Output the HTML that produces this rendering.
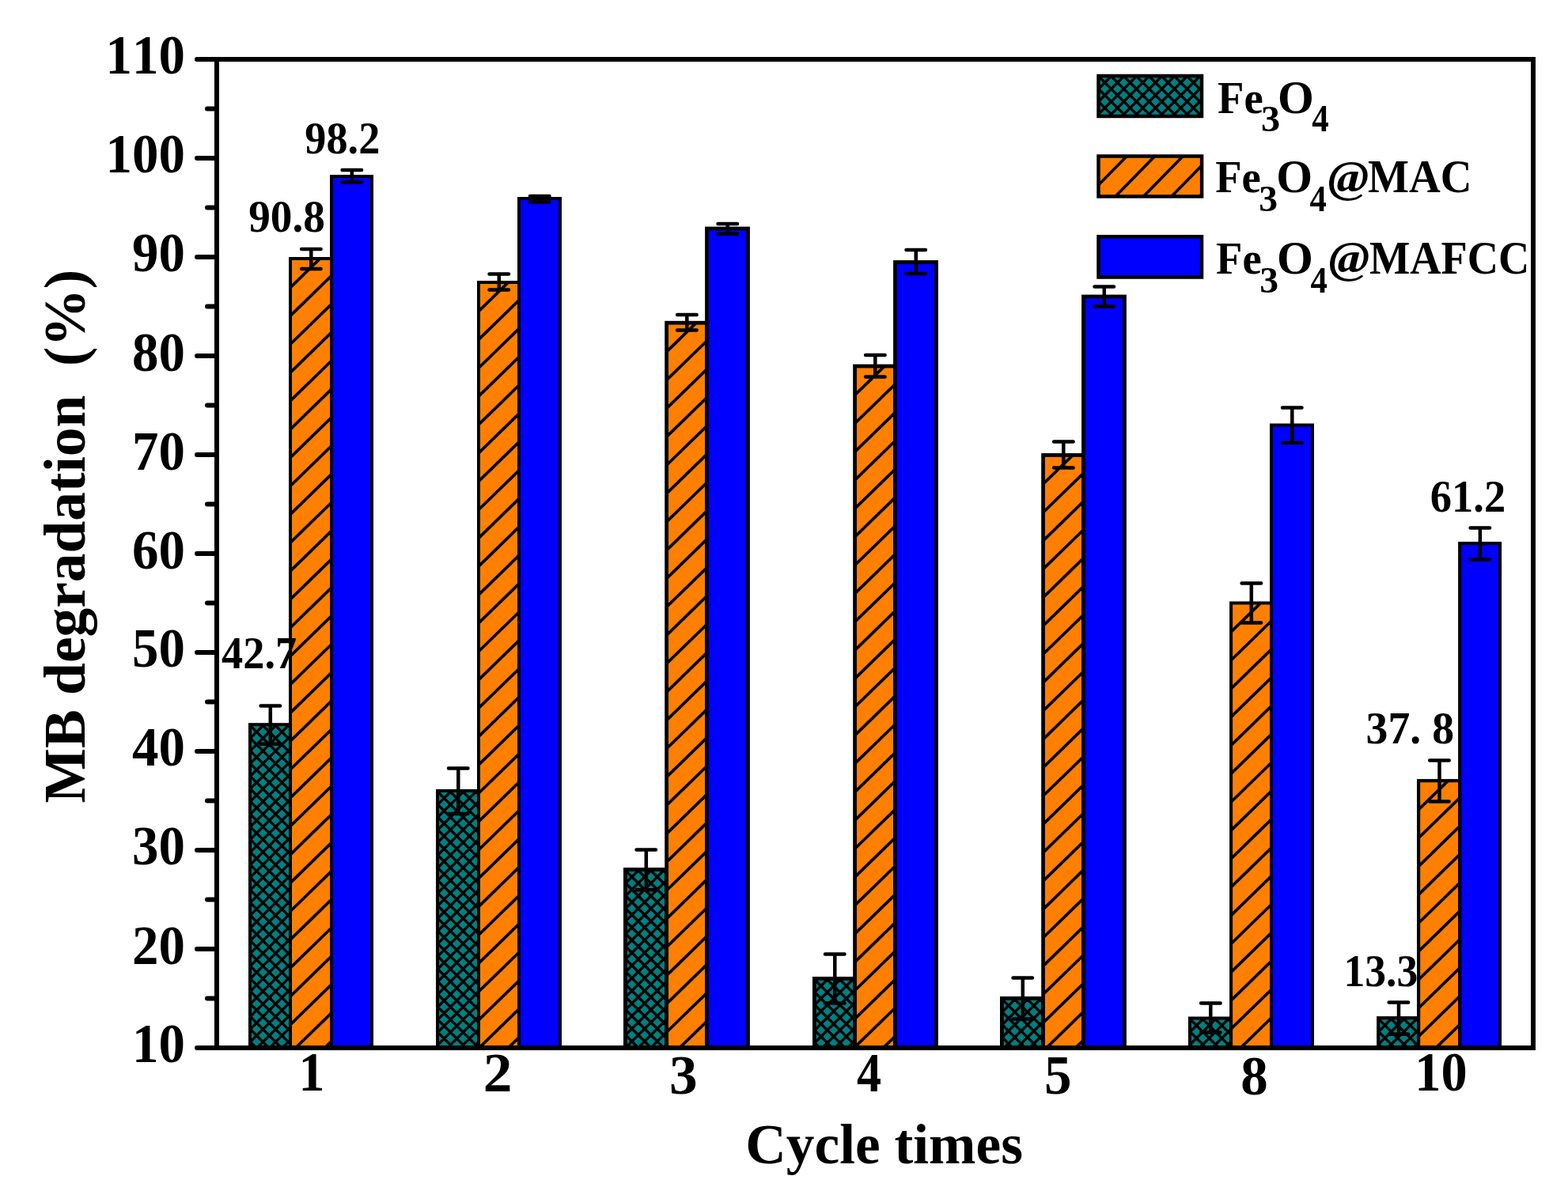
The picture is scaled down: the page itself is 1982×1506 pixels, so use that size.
<!DOCTYPE html>
<html lang="en"><head><meta charset="utf-8"><title>MB degradation vs cycle times</title>
<style>html,body{margin:0;padding:0;background:#fff;}body{width:1982px;height:1506px;overflow:hidden;}svg{display:block;}text{font-family:"Liberation Serif","Times New Roman",serif;font-weight:bold;fill:#000;font-kerning:none;white-space:pre;}</style></head><body>
<svg width="1982" height="1506" viewBox="0 0 1982 1506" role="img" aria-label="Bar chart of MB degradation (%) versus cycle times for Fe3O4, Fe3O4@MAC and Fe3O4@MAFCC">
<rect x="0" y="0" width="1982" height="1506" fill="#fff"/>
<svg x="316" y="916.2" width="51" height="408.8" overflow="hidden"><rect width="51" height="408.8" fill="#008080"/><path d="M-4 -10.3L55 -69.3M-4 5.7L55 -53.3M-4 21.7L55 -37.3M-4 37.7L55 -21.3M-4 53.7L55 -5.3M-4 69.7L55 10.7M-4 85.7L55 26.7M-4 101.7L55 42.7M-4 117.7L55 58.7M-4 133.7L55 74.7M-4 149.7L55 90.7M-4 165.7L55 106.7M-4 181.7L55 122.7M-4 197.7L55 138.7M-4 213.7L55 154.7M-4 229.7L55 170.7M-4 245.7L55 186.7M-4 261.7L55 202.7M-4 277.7L55 218.7M-4 293.7L55 234.7M-4 309.7L55 250.7M-4 325.7L55 266.7M-4 341.7L55 282.7M-4 357.7L55 298.7M-4 373.7L55 314.7M-4 389.7L55 330.7M-4 405.7L55 346.7M-4 421.7L55 362.7M-4 437.7L55 378.7M-4 453.7L55 394.7M-4 428.9L55 487.9M-4 412.9L55 471.9M-4 396.9L55 455.9M-4 380.9L55 439.9M-4 364.9L55 423.9M-4 348.9L55 407.9M-4 332.9L55 391.9M-4 316.9L55 375.9M-4 300.9L55 359.9M-4 284.9L55 343.9M-4 268.9L55 327.9M-4 252.9L55 311.9M-4 236.9L55 295.9M-4 220.9L55 279.9M-4 204.9L55 263.9M-4 188.9L55 247.9M-4 172.9L55 231.9M-4 156.9L55 215.9M-4 140.9L55 199.9M-4 124.9L55 183.9M-4 108.9L55 167.9M-4 92.9L55 151.9M-4 76.9L55 135.9M-4 60.9L55 119.9M-4 44.9L55 103.9M-4 28.9L55 87.9M-4 12.9L55 71.9M-4 -3.1L55 55.9M-4 -19.1L55 39.9M-4 -35.1L55 23.9M-4 -51.1L55 7.9" stroke="#000" stroke-width="3.4" fill="none"/></svg><rect x="316" y="916.2" width="51" height="408.8" fill="none" stroke="#000" stroke-width="4.0"/>
<svg x="367" y="327" width="52" height="998" overflow="hidden"><rect width="52" height="998" fill="#ff8000"/><path d="M-4 4.6L56 -53.9M-4 40.45L56 -18.05M-4 76.3L56 17.8M-4 112.15L56 53.65M-4 148L56 89.5M-4 183.85L56 125.35M-4 219.7L56 161.2M-4 255.55L56 197.05M-4 291.4L56 232.9M-4 327.25L56 268.75M-4 363.1L56 304.6M-4 398.95L56 340.45M-4 434.8L56 376.3M-4 470.65L56 412.15M-4 506.5L56 448M-4 542.35L56 483.85M-4 578.2L56 519.7M-4 614.05L56 555.55M-4 649.9L56 591.4M-4 685.75L56 627.25M-4 721.6L56 663.1M-4 757.45L56 698.95M-4 793.3L56 734.8M-4 829.15L56 770.65M-4 865L56 806.5M-4 900.85L56 842.35M-4 936.7L56 878.2M-4 972.55L56 914.05M-4 1008.4L56 949.9M-4 1044.25L56 985.75" stroke="#000" stroke-width="3.72" fill="none"/></svg><rect x="367" y="327" width="52" height="998" fill="none" stroke="#000" stroke-width="4.0"/>
<svg x="419" y="223" width="51" height="1102" overflow="hidden"><rect width="51" height="1102" fill="#0000ff"/></svg><rect x="419" y="223" width="51" height="1102" fill="none" stroke="#000" stroke-width="4.0"/>
<svg x="553" y="1000" width="52" height="325" overflow="hidden"><rect width="52" height="325" fill="#008080"/><path d="M-4 -10.3L56 -70.3M-4 5.7L56 -54.3M-4 21.7L56 -38.3M-4 37.7L56 -22.3M-4 53.7L56 -6.3M-4 69.7L56 9.7M-4 85.7L56 25.7M-4 101.7L56 41.7M-4 117.7L56 57.7M-4 133.7L56 73.7M-4 149.7L56 89.7M-4 165.7L56 105.7M-4 181.7L56 121.7M-4 197.7L56 137.7M-4 213.7L56 153.7M-4 229.7L56 169.7M-4 245.7L56 185.7M-4 261.7L56 201.7M-4 277.7L56 217.7M-4 293.7L56 233.7M-4 309.7L56 249.7M-4 325.7L56 265.7M-4 341.7L56 281.7M-4 357.7L56 297.7M-4 373.7L56 313.7M-4 348.9L56 408.9M-4 332.9L56 392.9M-4 316.9L56 376.9M-4 300.9L56 360.9M-4 284.9L56 344.9M-4 268.9L56 328.9M-4 252.9L56 312.9M-4 236.9L56 296.9M-4 220.9L56 280.9M-4 204.9L56 264.9M-4 188.9L56 248.9M-4 172.9L56 232.9M-4 156.9L56 216.9M-4 140.9L56 200.9M-4 124.9L56 184.9M-4 108.9L56 168.9M-4 92.9L56 152.9M-4 76.9L56 136.9M-4 60.9L56 120.9M-4 44.9L56 104.9M-4 28.9L56 88.9M-4 12.9L56 72.9M-4 -3.1L56 56.9M-4 -19.1L56 40.9M-4 -35.1L56 24.9M-4 -51.1L56 8.9" stroke="#000" stroke-width="3.4" fill="none"/></svg><rect x="553" y="1000" width="52" height="325" fill="none" stroke="#000" stroke-width="4.0"/>
<svg x="605" y="357" width="51" height="968" overflow="hidden"><rect width="51" height="968" fill="#ff8000"/><path d="M-4 4.6L55 -52.92M-4 40.45L55 -17.07M-4 76.3L55 18.78M-4 112.15L55 54.63M-4 148L55 90.47M-4 183.85L55 126.32M-4 219.7L55 162.18M-4 255.55L55 198.03M-4 291.4L55 233.88M-4 327.25L55 269.73M-4 363.1L55 305.57M-4 398.95L55 341.43M-4 434.8L55 377.28M-4 470.65L55 413.12M-4 506.5L55 448.98M-4 542.35L55 484.83M-4 578.2L55 520.68M-4 614.05L55 556.53M-4 649.9L55 592.38M-4 685.75L55 628.23M-4 721.6L55 664.08M-4 757.45L55 699.93M-4 793.3L55 735.78M-4 829.15L55 771.63M-4 865L55 807.48M-4 900.85L55 843.33M-4 936.7L55 879.18M-4 972.55L55 915.03M-4 1008.4L55 950.88" stroke="#000" stroke-width="3.72" fill="none"/></svg><rect x="605" y="357" width="51" height="968" fill="none" stroke="#000" stroke-width="4.0"/>
<svg x="656" y="251" width="52" height="1074" overflow="hidden"><rect width="52" height="1074" fill="#0000ff"/></svg><rect x="656" y="251" width="52" height="1074" fill="none" stroke="#000" stroke-width="4.0"/>
<svg x="790.4" y="1099.5" width="52.2" height="225.5" overflow="hidden"><rect width="52.2" height="225.5" fill="#008080"/><path d="M-4 -10.3L56.2 -70.5M-4 5.7L56.2 -54.5M-4 21.7L56.2 -38.5M-4 37.7L56.2 -22.5M-4 53.7L56.2 -6.5M-4 69.7L56.2 9.5M-4 85.7L56.2 25.5M-4 101.7L56.2 41.5M-4 117.7L56.2 57.5M-4 133.7L56.2 73.5M-4 149.7L56.2 89.5M-4 165.7L56.2 105.5M-4 181.7L56.2 121.5M-4 197.7L56.2 137.5M-4 213.7L56.2 153.5M-4 229.7L56.2 169.5M-4 245.7L56.2 185.5M-4 261.7L56.2 201.5M-4 277.7L56.2 217.5M-4 252.9L56.2 313.1M-4 236.9L56.2 297.1M-4 220.9L56.2 281.1M-4 204.9L56.2 265.1M-4 188.9L56.2 249.1M-4 172.9L56.2 233.1M-4 156.9L56.2 217.1M-4 140.9L56.2 201.1M-4 124.9L56.2 185.1M-4 108.9L56.2 169.1M-4 92.9L56.2 153.1M-4 76.9L56.2 137.1M-4 60.9L56.2 121.1M-4 44.9L56.2 105.1M-4 28.9L56.2 89.1M-4 12.9L56.2 73.1M-4 -3.1L56.2 57.1M-4 -19.1L56.2 41.1M-4 -35.1L56.2 25.1M-4 -51.1L56.2 9.1" stroke="#000" stroke-width="3.4" fill="none"/></svg><rect x="790.4" y="1099.5" width="52.2" height="225.5" fill="none" stroke="#000" stroke-width="4.8"/>
<svg x="842.6" y="408.2" width="50.9" height="916.8" overflow="hidden"><rect width="50.9" height="916.8" fill="#ff8000"/><path d="M-4 4.6L54.9 -52.83M-4 40.45L54.9 -16.98M-4 76.3L54.9 18.87M-4 112.15L54.9 54.72M-4 148L54.9 90.57M-4 183.85L54.9 126.42M-4 219.7L54.9 162.27M-4 255.55L54.9 198.12M-4 291.4L54.9 233.97M-4 327.25L54.9 269.82M-4 363.1L54.9 305.67M-4 398.95L54.9 341.52M-4 434.8L54.9 377.37M-4 470.65L54.9 413.22M-4 506.5L54.9 449.07M-4 542.35L54.9 484.92M-4 578.2L54.9 520.77M-4 614.05L54.9 556.62M-4 649.9L54.9 592.47M-4 685.75L54.9 628.32M-4 721.6L54.9 664.17M-4 757.45L54.9 700.02M-4 793.3L54.9 735.87M-4 829.15L54.9 771.72M-4 865L54.9 807.57M-4 900.85L54.9 843.42M-4 936.7L54.9 879.27M-4 972.55L54.9 915.12" stroke="#000" stroke-width="3.72" fill="none"/></svg><rect x="842.6" y="408.2" width="50.9" height="916.8" fill="none" stroke="#000" stroke-width="4.8"/>
<svg x="893.5" y="289" width="52" height="1036" overflow="hidden"><rect width="52" height="1036" fill="#0000ff"/></svg><rect x="893.5" y="289" width="52" height="1036" fill="none" stroke="#000" stroke-width="4.8"/>
<svg x="1029.4" y="1237.4" width="51.2" height="87.6" overflow="hidden"><rect width="51.2" height="87.6" fill="#008080"/><path d="M-4 -10.3L55.2 -69.5M-4 5.7L55.2 -53.5M-4 21.7L55.2 -37.5M-4 37.7L55.2 -21.5M-4 53.7L55.2 -5.5M-4 69.7L55.2 10.5M-4 85.7L55.2 26.5M-4 101.7L55.2 42.5M-4 117.7L55.2 58.5M-4 133.7L55.2 74.5M-4 108.9L55.2 168.1M-4 92.9L55.2 152.1M-4 76.9L55.2 136.1M-4 60.9L55.2 120.1M-4 44.9L55.2 104.1M-4 28.9L55.2 88.1M-4 12.9L55.2 72.1M-4 -3.1L55.2 56.1M-4 -19.1L55.2 40.1M-4 -35.1L55.2 24.1M-4 -51.1L55.2 8.1" stroke="#000" stroke-width="3.4" fill="none"/></svg><rect x="1029.4" y="1237.4" width="51.2" height="87.6" fill="none" stroke="#000" stroke-width="4.8"/>
<svg x="1080.6" y="463" width="50.9" height="862" overflow="hidden"><rect width="50.9" height="862" fill="#ff8000"/><path d="M-4 4.6L54.9 -52.83M-4 40.45L54.9 -16.98M-4 76.3L54.9 18.87M-4 112.15L54.9 54.72M-4 148L54.9 90.57M-4 183.85L54.9 126.42M-4 219.7L54.9 162.27M-4 255.55L54.9 198.12M-4 291.4L54.9 233.97M-4 327.25L54.9 269.82M-4 363.1L54.9 305.67M-4 398.95L54.9 341.52M-4 434.8L54.9 377.37M-4 470.65L54.9 413.22M-4 506.5L54.9 449.07M-4 542.35L54.9 484.92M-4 578.2L54.9 520.77M-4 614.05L54.9 556.62M-4 649.9L54.9 592.47M-4 685.75L54.9 628.32M-4 721.6L54.9 664.17M-4 757.45L54.9 700.02M-4 793.3L54.9 735.87M-4 829.15L54.9 771.72M-4 865L54.9 807.57M-4 900.85L54.9 843.42" stroke="#000" stroke-width="3.72" fill="none"/></svg><rect x="1080.6" y="463" width="50.9" height="862" fill="none" stroke="#000" stroke-width="4.8"/>
<svg x="1131.5" y="331.5" width="52" height="993.5" overflow="hidden"><rect width="52" height="993.5" fill="#0000ff"/></svg><rect x="1131.5" y="331.5" width="52" height="993.5" fill="none" stroke="#000" stroke-width="4.8"/>
<svg x="1266.4" y="1262.4" width="52.2" height="62.6" overflow="hidden"><rect width="52.2" height="62.6" fill="#008080"/><path d="M-4 -10.3L56.2 -70.5M-4 5.7L56.2 -54.5M-4 21.7L56.2 -38.5M-4 37.7L56.2 -22.5M-4 53.7L56.2 -6.5M-4 69.7L56.2 9.5M-4 85.7L56.2 25.5M-4 101.7L56.2 41.5M-4 117.7L56.2 57.5M-4 76.9L56.2 137.1M-4 60.9L56.2 121.1M-4 44.9L56.2 105.1M-4 28.9L56.2 89.1M-4 12.9L56.2 73.1M-4 -3.1L56.2 57.1M-4 -19.1L56.2 41.1M-4 -35.1L56.2 25.1M-4 -51.1L56.2 9.1" stroke="#000" stroke-width="3.4" fill="none"/></svg><rect x="1266.4" y="1262.4" width="52.2" height="62.6" fill="none" stroke="#000" stroke-width="4.8"/>
<svg x="1318.6" y="575.5" width="50.9" height="749.5" overflow="hidden"><rect width="50.9" height="749.5" fill="#ff8000"/><path d="M-4 4.6L54.9 -52.83M-4 40.45L54.9 -16.98M-4 76.3L54.9 18.87M-4 112.15L54.9 54.72M-4 148L54.9 90.57M-4 183.85L54.9 126.42M-4 219.7L54.9 162.27M-4 255.55L54.9 198.12M-4 291.4L54.9 233.97M-4 327.25L54.9 269.82M-4 363.1L54.9 305.67M-4 398.95L54.9 341.52M-4 434.8L54.9 377.37M-4 470.65L54.9 413.22M-4 506.5L54.9 449.07M-4 542.35L54.9 484.92M-4 578.2L54.9 520.77M-4 614.05L54.9 556.62M-4 649.9L54.9 592.47M-4 685.75L54.9 628.32M-4 721.6L54.9 664.17M-4 757.45L54.9 700.02M-4 793.3L54.9 735.87" stroke="#000" stroke-width="3.72" fill="none"/></svg><rect x="1318.6" y="575.5" width="50.9" height="749.5" fill="none" stroke="#000" stroke-width="4.8"/>
<svg x="1369.5" y="375" width="52" height="950" overflow="hidden"><rect width="52" height="950" fill="#0000ff"/></svg><rect x="1369.5" y="375" width="52" height="950" fill="none" stroke="#000" stroke-width="4.8"/>
<svg x="1504" y="1287.5" width="52.1" height="37.5" overflow="hidden"><rect width="52.1" height="37.5" fill="#008080"/><path d="M-4 -10.3L56.1 -70.4M-4 5.7L56.1 -54.4M-4 21.7L56.1 -38.4M-4 37.7L56.1 -22.4M-4 53.7L56.1 -6.4M-4 69.7L56.1 9.6M-4 85.7L56.1 25.6M-4 60.9L56.1 121M-4 44.9L56.1 105M-4 28.9L56.1 89M-4 12.9L56.1 73M-4 -3.1L56.1 57M-4 -19.1L56.1 41M-4 -35.1L56.1 25M-4 -51.1L56.1 9" stroke="#000" stroke-width="3.4" fill="none"/></svg><rect x="1504" y="1287.5" width="52.1" height="37.5" fill="none" stroke="#000" stroke-width="4.0"/>
<svg x="1556.1" y="762.5" width="50.9" height="562.5" overflow="hidden"><rect width="50.9" height="562.5" fill="#ff8000"/><path d="M-4 4.6L54.9 -52.83M-4 40.45L54.9 -16.98M-4 76.3L54.9 18.87M-4 112.15L54.9 54.72M-4 148L54.9 90.57M-4 183.85L54.9 126.42M-4 219.7L54.9 162.27M-4 255.55L54.9 198.12M-4 291.4L54.9 233.97M-4 327.25L54.9 269.82M-4 363.1L54.9 305.67M-4 398.95L54.9 341.52M-4 434.8L54.9 377.37M-4 470.65L54.9 413.22M-4 506.5L54.9 449.07M-4 542.35L54.9 484.92M-4 578.2L54.9 520.77M-4 614.05L54.9 556.62" stroke="#000" stroke-width="3.72" fill="none"/></svg><rect x="1556.1" y="762.5" width="50.9" height="562.5" fill="none" stroke="#000" stroke-width="4.0"/>
<svg x="1607" y="537.5" width="52" height="787.5" overflow="hidden"><rect width="52" height="787.5" fill="#0000ff"/></svg><rect x="1607" y="537.5" width="52" height="787.5" fill="none" stroke="#000" stroke-width="4.0"/>
<svg x="1742.2" y="1287.2" width="50.9" height="37.8" overflow="hidden"><rect width="50.9" height="37.8" fill="#008080"/><path d="M-4 -10.3L54.9 -69.2M-4 5.7L54.9 -53.2M-4 21.7L54.9 -37.2M-4 37.7L54.9 -21.2M-4 53.7L54.9 -5.2M-4 69.7L54.9 10.8M-4 85.7L54.9 26.8M-4 60.9L54.9 119.8M-4 44.9L54.9 103.8M-4 28.9L54.9 87.8M-4 12.9L54.9 71.8M-4 -3.1L54.9 55.8M-4 -19.1L54.9 39.8M-4 -35.1L54.9 23.8M-4 -51.1L54.9 7.8" stroke="#000" stroke-width="3.4" fill="none"/></svg><rect x="1742.2" y="1287.2" width="50.9" height="37.8" fill="none" stroke="#000" stroke-width="4.2"/>
<svg x="1793.1" y="987.2" width="52.1" height="337.8" overflow="hidden"><rect width="52.1" height="337.8" fill="#ff8000"/><path d="M-4 4.6L56.1 -54M-4 40.45L56.1 -18.15M-4 76.3L56.1 17.7M-4 112.15L56.1 53.55M-4 148L56.1 89.4M-4 183.85L56.1 125.25M-4 219.7L56.1 161.1M-4 255.55L56.1 196.95M-4 291.4L56.1 232.8M-4 327.25L56.1 268.65M-4 363.1L56.1 304.5M-4 398.95L56.1 340.35" stroke="#000" stroke-width="3.72" fill="none"/></svg><rect x="1793.1" y="987.2" width="52.1" height="337.8" fill="none" stroke="#000" stroke-width="4.2"/>
<svg x="1845.2" y="687.1" width="50.8" height="637.9" overflow="hidden"><rect width="50.8" height="637.9" fill="#0000ff"/></svg><rect x="1845.2" y="687.1" width="50.8" height="637.9" fill="none" stroke="#000" stroke-width="4.2"/>
<path d="M329.6 892.4H354.1M329.6 940.7H354.1M341.8 892.4V940.7" stroke="#000" stroke-width="4.5" stroke-linecap="round" fill="none"/>
<path d="M381.1 315.1H405.6M381.1 340.0H405.6M393.3 315.1V340.0" stroke="#000" stroke-width="4.5" stroke-linecap="round" fill="none"/>
<path d="M432.6 215.1H457.1M432.6 230.6H457.1M444.8 215.1V230.6" stroke="#000" stroke-width="4.5" stroke-linecap="round" fill="none"/>
<path d="M567.0 971.5H591.5M567.0 1028.9H591.5M579.3 971.5V1028.9" stroke="#000" stroke-width="4.5" stroke-linecap="round" fill="none"/>
<path d="M618.5 346.5H643.0M618.5 366.6H643.0M630.8 346.5V366.6" stroke="#000" stroke-width="4.5" stroke-linecap="round" fill="none"/>
<path d="M670.0 248.1H694.5M670.0 255.5H694.5M682.3 248.1V255.5" stroke="#000" stroke-width="4.5" stroke-linecap="round" fill="none"/>
<path d="M804.5 1074.5H829.0M804.5 1125.2H829.0M816.8 1074.5V1125.2" stroke="#000" stroke-width="4.5" stroke-linecap="round" fill="none"/>
<path d="M856.1 398.0H880.6M856.1 417.5H880.6M868.3 398.0V417.5" stroke="#000" stroke-width="4.5" stroke-linecap="round" fill="none"/>
<path d="M907.5 283.0H932.0M907.5 295.4H932.0M919.8 283.0V295.4" stroke="#000" stroke-width="4.5" stroke-linecap="round" fill="none"/>
<path d="M1043.0 1206.6H1067.5M1043.0 1268.5H1067.5M1055.3 1206.6V1268.5" stroke="#000" stroke-width="4.5" stroke-linecap="round" fill="none"/>
<path d="M1094.1 449.1H1118.6M1094.1 476.5H1118.6M1106.3 449.1V476.5" stroke="#000" stroke-width="4.5" stroke-linecap="round" fill="none"/>
<path d="M1145.5 316.1H1170.0M1145.5 346.1H1170.0M1157.8 316.1V346.1" stroke="#000" stroke-width="4.5" stroke-linecap="round" fill="none"/>
<path d="M1280.5 1236.4H1305.0M1280.5 1288.6H1305.0M1292.8 1236.4V1288.6" stroke="#000" stroke-width="4.5" stroke-linecap="round" fill="none"/>
<path d="M1332.1 558.5H1356.6M1332.1 591.4H1356.6M1344.3 558.5V591.4" stroke="#000" stroke-width="4.5" stroke-linecap="round" fill="none"/>
<path d="M1383.5 362.4H1408.0M1383.5 387.5H1408.0M1395.8 362.4V387.5" stroke="#000" stroke-width="4.5" stroke-linecap="round" fill="none"/>
<path d="M1518.1 1268.5H1542.6M1518.1 1305.5H1542.6M1530.3 1268.5V1305.5" stroke="#000" stroke-width="4.5" stroke-linecap="round" fill="none"/>
<path d="M1569.6 737.5H1594.1M1569.6 787.4H1594.1M1581.8 737.5V787.4" stroke="#000" stroke-width="4.5" stroke-linecap="round" fill="none"/>
<path d="M1621.0 515.5H1645.5M1621.0 560.0H1645.5M1633.3 515.5V560.0" stroke="#000" stroke-width="4.5" stroke-linecap="round" fill="none"/>
<path d="M1755.7 1267.6H1780.2M1755.7 1307.8H1780.2M1768.0 1267.6V1307.8" stroke="#000" stroke-width="4.5" stroke-linecap="round" fill="none"/>
<path d="M1807.2 961.5H1831.7M1807.2 1013.5H1831.7M1819.5 961.5V1013.5" stroke="#000" stroke-width="4.5" stroke-linecap="round" fill="none"/>
<path d="M1858.6 667.5H1883.1M1858.6 707.5H1883.1M1870.9 667.5V707.5" stroke="#000" stroke-width="4.5" stroke-linecap="round" fill="none"/>
<rect x="274.0" y="75.0" width="1664.0" height="1250.0" fill="none" stroke="#000" stroke-width="6"/>
<path d="M249 1325.0H274.0M262 1262.5H274.0M249 1200.0H274.0M262 1137.5H274.0M249 1075.0H274.0M262 1012.5H274.0M249 950.0H274.0M262 887.5H274.0M249 825.0H274.0M262 762.5H274.0M249 700.0H274.0M262 637.5H274.0M249 575.0H274.0M262 512.5H274.0M249 450.0H274.0M262 387.5H274.0M249 325.0H274.0M262 262.5H274.0M249 200.0H274.0M262 137.5H274.0M249 75.0H274.0" stroke="#000" stroke-width="6" stroke-linecap="round" fill="none"/>
<text transform="translate(166.98 1343.40) scale(0.9649 1)" font-size="69.30" xml:space="preserve">10</text>
<text transform="translate(166.98 1218.60) scale(0.9649 1)" font-size="69.30" xml:space="preserve">20</text>
<text transform="translate(166.98 1093.30) scale(0.9649 1)" font-size="69.30" xml:space="preserve">30</text>
<text transform="translate(166.98 968.30) scale(0.9649 1)" font-size="69.30" xml:space="preserve">40</text>
<text transform="translate(166.98 843.30) scale(0.9649 1)" font-size="69.30" xml:space="preserve">50</text>
<text transform="translate(166.98 719.30) scale(0.9649 1)" font-size="69.30" xml:space="preserve">60</text>
<text transform="translate(166.98 594.40) scale(0.9649 1)" font-size="69.30" xml:space="preserve">70</text>
<text transform="translate(166.98 469.20) scale(0.9649 1)" font-size="69.30" xml:space="preserve">80</text>
<text transform="translate(166.98 343.20) scale(0.9649 1)" font-size="69.30" xml:space="preserve">90</text>
<text transform="translate(133.55 217.70) scale(0.9649 1)" font-size="69.30" xml:space="preserve">100</text>
<text transform="translate(133.55 92.80) scale(0.9649 1)" font-size="69.30" xml:space="preserve">110</text>
<text transform="translate(377.51 1379.10) scale(0.9411 1)" font-size="70.13" xml:space="preserve">1</text>
<text transform="translate(610.81 1379.90) scale(1.0555 1)" font-size="69.63" xml:space="preserve">2</text>
<text transform="translate(845.92 1383.41) scale(1.0096 1)" font-size="70.55" xml:space="preserve">3</text>
<text transform="translate(1083.05 1379.90) scale(0.8882 1)" font-size="70.04" xml:space="preserve">4</text>
<text transform="translate(1320.03 1382.62) scale(0.9870 1)" font-size="70.12" xml:space="preserve">5</text>
<text transform="translate(1568.31 1384.21) scale(0.9817 1)" font-size="70.24" xml:space="preserve">8</text>
<text transform="translate(1788.28 1379.21) scale(0.9460 1)" font-size="70.24" xml:space="preserve">10</text>
<text transform="translate(942.32 1471.12) scale(0.9821 1)" font-size="72.66" xml:space="preserve">Cycle times</text>
<text transform="translate(107.1 1015.45) rotate(-90) scale(1.0054 1)" font-size="73.0" xml:space="preserve">MB degradation  (%)</text>
<text transform="translate(280.06 845.18) scale(0.9420 1)" font-size="57.67" xml:space="preserve">42.7</text>
<text transform="translate(314.19 293.09) scale(0.9628 1)" font-size="57.42" xml:space="preserve">90.8</text>
<text transform="translate(385.32 194.28) scale(0.9384 1)" font-size="57.86" xml:space="preserve">98.2</text>
<text transform="translate(1698.51 1246.99) scale(0.9369 1)" font-size="57.23" xml:space="preserve">13.3</text>
<text transform="translate(1726.60 940.18) scale(0.9679 1)" font-size="57.57" xml:space="preserve">37. 8</text>
<text transform="translate(1807.84 646.98) scale(0.9405 1)" font-size="57.97" xml:space="preserve">61.2</text>
<svg x="1388.5" y="96" width="130.5" height="51" overflow="hidden"><rect width="130.5" height="51" fill="#008080"/><path d="M-4 -11.5L134.5 -150M-4 4.5L134.5 -134M-4 20.5L134.5 -118M-4 36.5L134.5 -102M-4 52.5L134.5 -86M-4 68.5L134.5 -70M-4 84.5L134.5 -54M-4 100.5L134.5 -38M-4 116.5L134.5 -22M-4 132.5L134.5 -6M-4 148.5L134.5 10M-4 164.5L134.5 26M-4 180.5L134.5 42M-4 76.4L134.5 214.9M-4 60.4L134.5 198.9M-4 44.4L134.5 182.9M-4 28.4L134.5 166.9M-4 12.4L134.5 150.9M-4 -3.6L134.5 134.9M-4 -19.6L134.5 118.9M-4 -35.6L134.5 102.9M-4 -51.6L134.5 86.9M-4 -67.6L134.5 70.9M-4 -83.6L134.5 54.9M-4 -99.6L134.5 38.9M-4 -115.6L134.5 22.9M-4 -131.6L134.5 6.9" stroke="#000" stroke-width="3.4" fill="none"/></svg><rect x="1388.5" y="96" width="130.5" height="51" fill="none" stroke="#000" stroke-width="4.5"/>
<svg x="1388.5" y="197.5" width="130.6" height="50.9" overflow="hidden"><rect width="130.6" height="50.9" fill="#ff8000"/><path d="M-4 4.38L134.6 -136.99M-4 40.58L134.6 -100.79M-4 76.78L134.6 -64.59M-4 112.98L134.6 -28.39M-4 149.18L134.6 7.81M-4 185.38L134.6 44.01" stroke="#000" stroke-width="3.64" fill="none"/></svg><rect x="1388.5" y="197.5" width="130.6" height="50.9" fill="none" stroke="#000" stroke-width="4.5"/>
<svg x="1388.5" y="299.2" width="130.5" height="51.3" overflow="hidden"><rect width="130.5" height="51.3" fill="#0000ff"/></svg><rect x="1388.5" y="299.2" width="130.5" height="51.3" fill="none" stroke="#000" stroke-width="4.5"/>
<text xml:space="preserve"><tspan x="1539.07" y="142.76" font-size="57.68" textLength="57.65" lengthAdjust="spacingAndGlyphs">Fe</tspan><tspan x="1593.98" y="165.74" font-size="47.03" textLength="24.17" lengthAdjust="spacingAndGlyphs">3</tspan><tspan x="1615.12" y="142.53" font-size="58.49" textLength="45.86" lengthAdjust="spacingAndGlyphs">O</tspan><tspan x="1658.31" y="166.00" font-size="47.71" textLength="21.48" lengthAdjust="spacingAndGlyphs">4</tspan></text>
<text xml:space="preserve"><tspan x="1536.17" y="243.46" font-size="57.68" textLength="57.54" lengthAdjust="spacingAndGlyphs">Fe</tspan><tspan x="1591.31" y="267.25" font-size="46.29" textLength="23.82" lengthAdjust="spacingAndGlyphs">3</tspan><tspan x="1613.22" y="243.23" font-size="58.20" textLength="45.86" lengthAdjust="spacingAndGlyphs">O</tspan><tspan x="1655.62" y="267.40" font-size="46.79" textLength="21.38" lengthAdjust="spacingAndGlyphs">4</tspan><tspan x="1678.64" y="242.87" font-size="57.01" textLength="51.94" lengthAdjust="spacingAndGlyphs" font-style="italic">@</tspan><tspan x="1729.06" y="243.43" font-size="58.49" textLength="131.43" lengthAdjust="spacingAndGlyphs">MAC</tspan></text>
<text xml:space="preserve"><tspan x="1537.07" y="345.76" font-size="57.68" textLength="57.54" lengthAdjust="spacingAndGlyphs">Fe</tspan><tspan x="1592.21" y="369.55" font-size="46.29" textLength="23.82" lengthAdjust="spacingAndGlyphs">3</tspan><tspan x="1614.12" y="345.53" font-size="58.20" textLength="45.86" lengthAdjust="spacingAndGlyphs">O</tspan><tspan x="1656.52" y="369.70" font-size="46.79" textLength="21.38" lengthAdjust="spacingAndGlyphs">4</tspan><tspan x="1679.54" y="345.17" font-size="57.01" textLength="51.94" lengthAdjust="spacingAndGlyphs" font-style="italic">@</tspan><tspan x="1731.07" y="345.53" font-size="58.20" textLength="202.27" lengthAdjust="spacingAndGlyphs">MAFCC</tspan></text>
</svg></body></html>
